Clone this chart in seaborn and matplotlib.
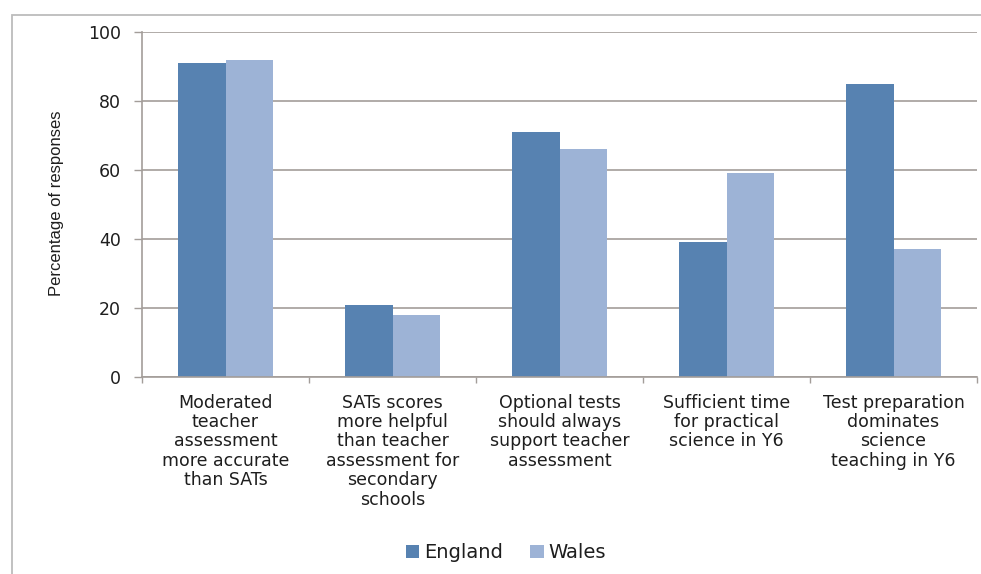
import matplotlib
matplotlib.use("Agg")
import matplotlib.pyplot as plt
import seaborn as sns
import pandas as pd
from matplotlib.patches import Rectangle
from matplotlib.ticker import FixedLocator

categories = [
    "Moderated\nteacher\nassessment\nmore accurate\nthan SATs",
    "SATs scores\nmore helpful\nthan teacher\nassessment for\nsecondary\nschools",
    "Optional tests\nshould always\nsupport teacher\nassessment",
    "Sufficient time\nfor practical\nscience in Y6",
    "Test preparation\ndominates\nscience\nteaching in Y6",
]
england = [91, 21, 71, 39, 85]
wales = [92, 18, 66, 59, 37]
series = ["England", "Wales"]
yticks = [0, 20, 40, 60, 80, 100]

df = pd.DataFrame({
    "category": categories * 2,
    "value": england + wales,
    "country": [series[0]] * len(categories) + [series[1]] * len(categories),
})

sns.set_theme(style="white")
plt.rcParams["font.family"] = ["DejaVu Sans"]

W, H = 981, 574
fig = plt.figure(figsize=(W / 100, H / 100), dpi=100)
ax = fig.add_axes([142 / W, 1 - 377 / H, (977 - 142) / W, (377 - 32) / H])

gridc = "#a39d99"
txtc = "#1e1e1e"
sns.barplot(data=df, x="category", y="value", hue="country",
            palette=["#5782b1", "#9db3d6"], width=0.57, saturation=1,
            linewidth=0, ax=ax, legend=True)

ax.set_ylim(0, 100)
ax.set_xlim(-0.5, len(categories) - 0.5)
ax.set_yticks(yticks)
ax.set_yticklabels([str(t) for t in yticks], fontsize=12.5, color=txtc)
ax.yaxis.grid(True, color=gridc, linewidth=1.2)
ax.set_axisbelow(True)
ax.tick_params(axis="y", length=6, width=1, color=gridc, pad=9, left=True)
ax.set_xticks(range(len(categories)))
ax.set_xticklabels(categories, fontsize=12.5, color=txtc, linespacing=1.1, va="top")
ax.tick_params(axis="x", which="major", length=0, pad=12)
ax.xaxis.set_minor_locator(FixedLocator([i - 0.5 for i in range(len(categories) + 1)]))
ax.tick_params(axis="x", which="minor", length=4, width=1, color=gridc, bottom=True)

for s in ["top", "right"]:
    ax.spines[s].set_visible(False)
for s in ["left", "bottom"]:
    ax.spines[s].set_color(gridc)
    ax.spines[s].set_linewidth(1.2)

ax.set_xlabel("")
ax.set_ylabel("")
fig.text(57 / W, 1 - 203 / H, "Percentage of responses", rotation=90,
         ha="center", va="center", fontsize=12, color=txtc,
         family=["Liberation Sans Narrow", "Liberation Sans", "DejaVu Sans"])

leg = ax.legend(loc="center", bbox_to_anchor=(506 / W, 1 - 553 / H),
                bbox_transform=fig.transFigure, ncol=2, frameon=False,
                fontsize=14, handlelength=0.7, handleheight=0.6,
                handletextpad=0.25, columnspacing=1.4)
for t in leg.get_texts():
    t.set_color(txtc)

fig.patches.append(Rectangle((12 / W, -0.1), 1.2, 1.1 - 15 / H, transform=fig.transFigure,
                             fill=False, edgecolor="#bcbcbc", linewidth=1.3))

fig.savefig("out.png", dpi=100, facecolor="white")
